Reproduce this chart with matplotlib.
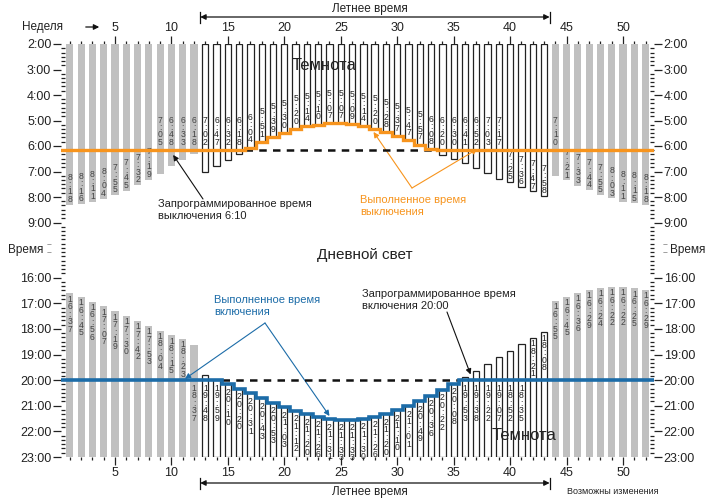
import matplotlib
matplotlib.use("Agg")
import matplotlib.pyplot as plt
import matplotlib.transforms as mtransforms
from matplotlib import font_manager as fm
import numpy as np

# ---------------- data ----------------
weeks = list(range(1, 53))
summer_weeks = list(range(13, 44))
sunrise_times = ["8:18", "8:16", "8:11", "8:04", "7:55", "7:45", "7:32", "7:19", "7:05", "6:48", "6:33", "6:18",
                 "7:02", "6:47", "6:32", "6:18", "6:04", "5:51", "5:39", "5:30", "5:20", "5:14", "5:10", "5:07",
                 "5:07", "5:09", "5:14", "5:20", "5:28", "5:37", "5:47", "5:57", "6:08", "6:20", "6:30", "6:41",
                 "6:52", "7:03", "7:17", "7:25", "7:36", "7:47", "7:58",
                 "7:10", "7:21", "7:33", "7:44", "7:55", "8:03", "8:11", "8:15", "8:18"]
sunset_times = ["16:37", "16:45", "16:56", "17:07", "17:19", "17:30", "17:42", "17:53", "18:04", "18:15", "18:23", "18:37",
                "19:48", "19:59", "20:10", "20:20", "20:31", "20:43", "20:53", "21:03", "21:12", "21:20", "21:26", "21:31",
                "21:33", "21:33", "21:30", "21:26", "21:20", "21:10", "21:01", "20:49", "20:36", "20:22", "20:08", "19:53",
                "19:38", "19:22", "19:07", "18:52", "18:35", "18:21", "18:08",
                "16:55", "16:45", "16:36", "16:29", "16:24", "16:22", "16:22", "16:25", "16:29"]
off_programmed = "6:10"
on_programmed = "20:00"
week_tick_labels = [5, 10, 15, 20, 25, 30, 35, 40, 45, 50]
top_hour_ticks = [2, 3, 4, 5, 6, 7, 8, 9]
bottom_hour_ticks = [16, 17, 18, 19, 20, 21, 22, 23]

GRAY = "#c0c0c0"
ORANGE = "#f7941d"
BLUE = "#1c6ca8"
DARK = "#222222"


def pick_font(names):
    for n in names:
        try:
            fm.findfont(fm.FontProperties(family=n), fallback_to_default=False)
            return n
        except Exception:
            pass
    return "DejaVu Sans"


FONT = pick_font(["Liberation Sans Narrow", "Liberation Sans"])
plt.rcParams["font.family"] = [FONT, "DejaVu Sans"]


def hours(t):
    hh, mm = t.split(":")
    return int(hh) + int(mm) / 60.0


sunrise = [hours(t) for t in sunrise_times]
sunset = [hours(t) for t in sunset_times]
off_t = hours(off_programmed)
on_t = hours(on_programmed)
executed_off = [min(s, off_t) for s in sunrise]
executed_on = [max(s, on_t) for s in sunset]
is_summer = [w in summer_weeks for w in weeks]

# ---------------- figure ----------------
W, H = 718, 499
fig = plt.figure(figsize=(W / 100, H / 100), dpi=100)


def fx(px):
    return px / W


def fy(py):
    return 1 - py / H


L_PX, R_PX = 61, 654
ax_top = fig.add_axes([fx(L_PX), fy(248), fx(R_PX) - fx(L_PX), fy(44) - fy(248)])
ax_bot = fig.add_axes([fx(L_PX), fy(457), fx(R_PX) - fx(L_PX), fy(252) - fy(457)])

px_per_week = (623 - 115) / 45.0
w1_px = 115 - 4 * px_per_week
xmin = 1 - (w1_px - L_PX) / px_per_week
xmax = 1 + (R_PX - w1_px) / px_per_week

ax_top.set_ylim(10, 2)
ax_bot.set_ylim(23, 15)

BW = 0.64
gw = [w for w, s in zip(weeks, is_summer) if not s]
sw = [w for w, s in zip(weeks, is_summer) if s]

# top bars: from 2:00 down to sunrise
g_sr = [sunrise[w - 1] for w in gw]
s_sr = [sunrise[w - 1] for w in sw]
ax_top.bar(gw, [v - 2 for v in g_sr], bottom=2, width=BW, color=GRAY, linewidth=0, zorder=2)
ax_top.bar(sw, [v - 2 for v in s_sr], bottom=2, width=BW - 0.08, color="white", edgecolor=DARK,
           linewidth=0.9, zorder=2)

# bottom bars: from sunset down to 23:00
g_ss = [sunset[w - 1] for w in gw]
s_ss = [sunset[w - 1] for w in sw]
ax_bot.bar(gw, [23 - v for v in g_ss], bottom=g_ss, width=BW, color=GRAY, linewidth=0, zorder=2)
ax_bot.bar(sw, [23 - v for v in s_ss], bottom=s_ss, width=BW - 0.08, color="white", edgecolor=DARK,
           linewidth=0.9, zorder=2)

# executed lines (step)
xs = [xmin] + weeks + [xmax]
ax_top.plot(xs, [executed_off[0]] + executed_off + [executed_off[-1]], drawstyle="steps-mid",
            color=ORANGE, lw=2.4, zorder=5, solid_joinstyle="miter")
ax_bot.plot(xs, [executed_on[0]] + executed_on + [executed_on[-1]], drawstyle="steps-mid",
            color=BLUE, lw=2.6, zorder=5, solid_joinstyle="miter")

# programmed dashed lines where executed differs
d_off = [w for w, s in zip(weeks, sunrise) if s < off_t]
ax_top.plot([min(d_off) - 0.5, max(d_off) + 0.5], [off_t, off_t], ls=(0, (3, 2.5)), color="#111", lw=1.8, zorder=4)
d_on = [w for w, s in zip(weeks, sunset) if s > on_t]
ax_bot.plot([min(d_on) - 0.5, max(d_on) + 0.5], [on_t, on_t], ls=(0, (3, 2.5)), color="#111", lw=1.8, zorder=4)

# value labels (stacked characters)
LFS = 6.2
LSP = 0.78
CH = 0.27
for w, t, s, summ in zip(weeks, sunrise_times, sunrise, is_summer):
    hh = len(t) * CH
    if s - hh >= off_t + 0.05:
        y = s - 0.03
    else:
        y = min(s, off_t) - 0.13
    ax_top.text(w, y, "\n".join(t), ha="center", va="bottom", fontsize=LFS, linespacing=LSP,
                color=DARK if summ else "#444", zorder=3)
for w, t, s, summ in zip(weeks, sunset_times, sunset, is_summer):
    hh = len(t) * CH
    if s + hh <= on_t - 0.1:
        y = s + 0.05
    else:
        y = max(s, on_t) + 0.14
    ax_bot.text(w, y, "\n".join(t), ha="center", va="top", fontsize=LFS, linespacing=LSP,
                color=DARK if summ else "#444", zorder=3)

# axes styling
for ax, hticks, lo in ((ax_top, top_hour_ticks, 2), (ax_bot, bottom_hour_ticks, 15)):
    ax.set_xlim(xmin, xmax)
    for sp in ax.spines.values():
        sp.set_visible(False)
    ax.set_yticks(hticks, labels=[f"{h}:00" for h in hticks])
    ax.set_yticks(np.arange(lo, lo + 8.001, 1 / 6.0), minor=True)
    ax.yaxis.set_ticks_position("both")
    ax.tick_params(axis="y", which="major", direction="out", length=6, width=0.9, labelsize=9,
                   labelleft=True, labelright=True, pad=1, colors="#222")
    ax.tick_params(axis="y", which="minor", direction="in", length=3, width=0.9, colors="#222")
    ax.set_xticks(week_tick_labels)
    ax.set_xticks(weeks, minor=True)
    ax.set_facecolor("none")

ax_top.xaxis.set_ticks_position("top")
ax_bot.xaxis.set_ticks_position("bottom")
for ax in (ax_top, ax_bot):
    ax.tick_params(axis="x", which="major", direction="out", length=6, width=0.9, labelsize=9, pad=1,
                   colors="#222")
    ax.tick_params(axis="x", which="minor", direction="out", length=2.5, width=0.9, colors="#222")

# ---------------- texts ----------------
fig.text(fx(63), fy(27), "Неделя", ha="right", va="center", fontsize=8.5, color="#222")
fig.add_artist(matplotlib.patches.FancyArrowPatch((fx(83), fy(27)), (fx(102), fy(27)),
                                                  transform=fig.transFigure, arrowstyle="-|>",
                                                  mutation_scale=8, lw=0.9, color="#111"))

# summer time span arrows
btr = mtransforms.blended_transform_factory(ax_top.transData, fig.transFigure)
sx0, sx1 = min(summer_weeks) - 0.45, max(summer_weeks) + 0.5
for ly, ty in ((17, 9), (483, 492)):
    fig.add_artist(matplotlib.patches.FancyArrowPatch((sx0, fy(ly)), (sx1, fy(ly)), transform=btr,
                                                      arrowstyle="<|-|>", mutation_scale=8, lw=0.9,
                                                      color="#111", shrinkA=0, shrinkB=0))
    for sx in (sx0, sx1):
        fig.add_artist(matplotlib.lines.Line2D([sx, sx], [fy(ly - 5), fy(ly + 6)], transform=btr,
                                               color="#111", lw=0.9))
    fig.text(fx(370), fy(ty), "Летнее время", ha="center", va="center", fontsize=8.5, color="#222")

fig.text(fx(613), fy(491), "Возможны изменения", ha="center", va="center", fontsize=6.5, color="#222")

fig.text(fx(324), fy(65), "Темнота", ha="center", va="center", fontsize=12, color="#222", zorder=10)
fig.text(fx(524), fy(435), "Темнота", ha="center", va="center", fontsize=12, color="#222", zorder=10)
fig.text(fx(365), fy(255), "Дневной свет", ha="center", va="center", fontsize=11, color="#222")

fig.text(fx(43), fy(250), "Время", ha="right", va="center", fontsize=8.5, color="#222")
fig.text(fx(670), fy(250), "Время", ha="left", va="center", fontsize=8.5, color="#222")
for bx in (49.5, 665.5):
    fig.text(fx(bx), fy(246), "~", ha="center", va="center", fontsize=6, color="#444")
    fig.text(fx(bx), fy(254), "~", ha="center", va="center", fontsize=6, color="#444")

# annotations
fig.text(fx(158), fy(210), "Запрограммированное время\nвыключения 6:10", ha="left", va="center",
         fontsize=8, linespacing=1.15, color="#222")
ax_top.annotate("", xy=(10.15, 6.35), xycoords="data", xytext=(fx(203), fy(199)),
                textcoords="figure fraction",
                arrowprops=dict(arrowstyle="-|>", color="#111", lw=0.8, mutation_scale=8, shrinkA=0, shrinkB=0))

fig.text(fx(360), fy(206), "Выполненное время\nвыключения", ha="left", va="center",
         fontsize=8, linespacing=1.15, color=ORANGE)
for tgt in ((27.9, 5.45), (37.1, 6.12)):
    ax_top.annotate("", xy=tgt, xycoords="data", xytext=(fx(412), fy(188)), textcoords="figure fraction",
                    arrowprops=dict(arrowstyle="-|>", color=ORANGE, lw=0.8, mutation_scale=8,
                                    shrinkA=0, shrinkB=0))

fig.text(fx(214), fy(306), "Выполненное время\nвключения", ha="left", va="center",
         fontsize=8, linespacing=1.15, color=BLUE)
for tgt in ((11.2, 19.95), (24.0, 21.4)):
    ax_bot.annotate("", xy=tgt, xycoords="data", xytext=(fx(265), fy(323)), textcoords="figure fraction",
                    arrowprops=dict(arrowstyle="-|>", color=BLUE, lw=0.8, mutation_scale=8,
                                    shrinkA=0, shrinkB=0))

fig.text(fx(362), fy(300), "Запрограммированное время\nвключения 20:00", ha="left", va="center",
         fontsize=8, linespacing=1.15, color="#222")
ax_bot.annotate("", xy=(36.5, 19.78), xycoords="data", xytext=(fx(447), fy(312)), textcoords="figure fraction",
                arrowprops=dict(arrowstyle="-|>", color="#111", lw=0.8, mutation_scale=8, shrinkA=0, shrinkB=0))

fig.savefig("out.png", dpi=100)
